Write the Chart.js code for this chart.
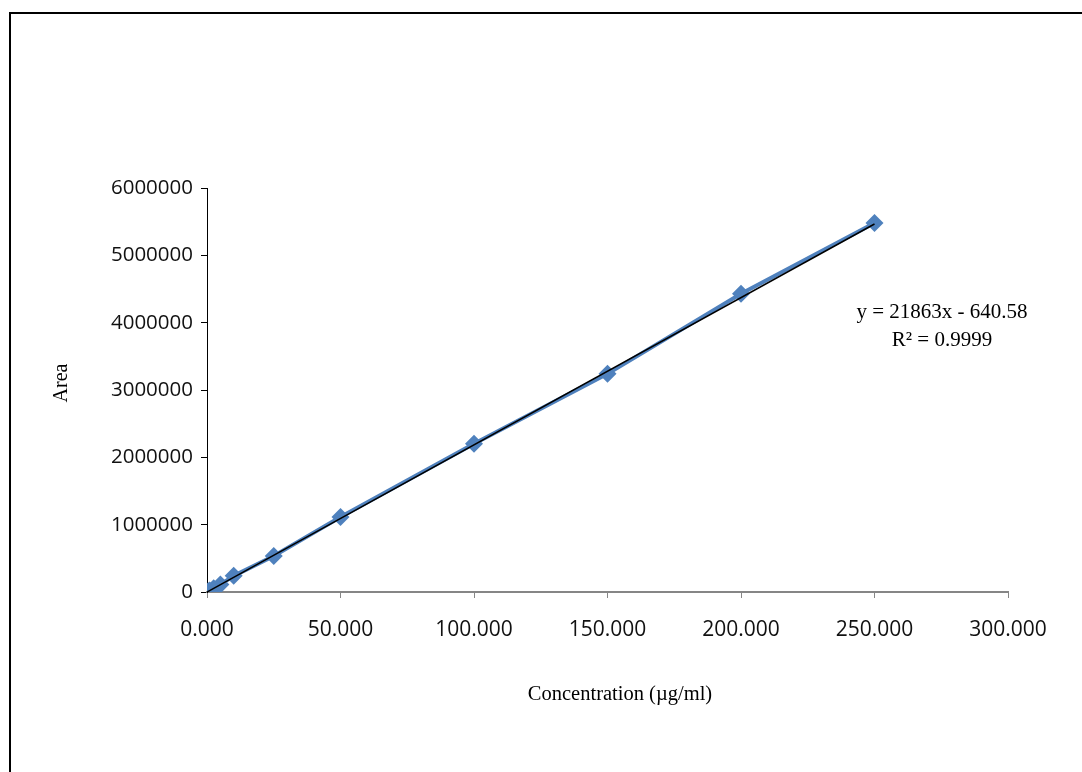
<!DOCTYPE html>
<html>
<head>
<meta charset="utf-8">
<script src="https://cdn.jsdelivr.net/npm/chart.js@4"></script>
<style>
  html, body { margin: 0; padding: 0; background: #fff; overflow: hidden; }
  #wrap { position: relative; width: 1082px; height: 772px; }
  #frame { position: absolute; left: 9px; top: 12px; width: 1100px; height: 800px;
           border-left: 2px solid #000; border-top: 2px solid #000; box-sizing: border-box; }
  canvas { position: absolute; left: 0; top: 0; }
</style>
</head>
<body>
<div id="wrap">
  <div id="frame"></div>
  <canvas id="calib" width="1082" height="772"></canvas>
</div>
<script>
// Courbe d'étalonnage : aire en fonction de la concentration

const concentrations = [0.5, 1, 2.5, 5, 10, 25, 50, 100, 150, 200, 250];
const areas = [11000, 22000, 55000, 110000, 240000, 535000, 1115000, 2200000, 3240000, 4430000, 5480000];
const slope = 21863;
const intercept = -640.58;
const xTicks = [0, 50, 100, 150, 200, 250, 300];
const yTicks = [0, 1000000, 2000000, 3000000, 4000000, 5000000, 6000000];

const points = concentrations.map((c, i) => ({ x: c, y: areas[i] }));
const trend = [0, concentrations[concentrations.length - 1]].map(c => ({ x: c, y: slope * c + intercept }));

// textes : titres des axes et équation de la droite
const labelsPlugin = {
    id: 'labels',
    afterDraw(chart) {
        const c = chart.ctx;
        c.save();
        c.fillStyle = '#000';
        c.textAlign = 'center';
        c.textBaseline = 'middle';
        c.font = '20.5px "Liberation Serif", "Times New Roman", serif';
        c.fillText('Concentration (µg/ml)', 620, 695);
        c.font = '21px "Liberation Serif", "Times New Roman", serif';
        c.fillText('y = 21863x - 640.58', 942, 312);
        c.fillText('R² = 0.9999', 942, 340);
        c.font = '20px "Liberation Serif", "Times New Roman", serif';
        c.translate(62, 383);
        c.rotate(-Math.PI / 2);
        c.fillText('Area', 0, 0);
        c.restore();
    }
};

const ctx = document.getElementById('calib').getContext('2d');

new Chart(ctx, {
    type: 'scatter',
    data: {
        datasets: [{
            label: 'Trend',
            data: trend,
            showLine: true,
            borderColor: '#000',
            borderWidth: 1.5,
            pointRadius: 0,
            order: 0
        }, {
            label: 'Area',
            data: points,
            showLine: true,
            borderColor: '#4F81BD',
            backgroundColor: '#4F81BD',
            borderWidth: 4,
            pointStyle: 'rectRot',
            pointRadius: 9,
            pointBorderWidth: 0,
            order: 1
        }]
    },
    options: {
        responsive: false,
        animation: false,
        layout: { padding: { left: 0, top: 188, right: 74, bottom: 0 } },
        plugins: {
            legend: { display: false },
            tooltip: { enabled: false }
        },
        scales: {
            x: {
                type: 'linear',
                min: 0,
                max: 300,
                afterBuildTicks: s => { s.ticks = xTicks.map(v => ({ value: v })); },
                afterFit: s => { s.height = 180; },
                border: { color: '#868686', width: 2 },
                grid: { drawOnChartArea: false, color: '#868686', tickLength: 6 },
                ticks: {
                    color: '#111',
                    padding: 19,
                    font: { family: '"Open Sans", sans-serif', size: 21 },
                    callback: v => v.toFixed(3)
                }
            },
            y: {
                min: 0,
                max: 6000000,
                afterBuildTicks: s => { s.ticks = yTicks.map(v => ({ value: v })); },
                afterFit: s => { s.width = 207; },
                border: { color: '#000', width: 1 },
                grid: { drawOnChartArea: false, color: '#000', tickLength: 6 },
                ticks: {
                    color: '#111',
                    padding: 8,
                    font: { family: '"Open Sans", sans-serif', size: 20.5 },
                    callback: v => String(v)
                }
            }
        }
    },
    plugins: [labelsPlugin]
});
</script>
</body>
</html>
